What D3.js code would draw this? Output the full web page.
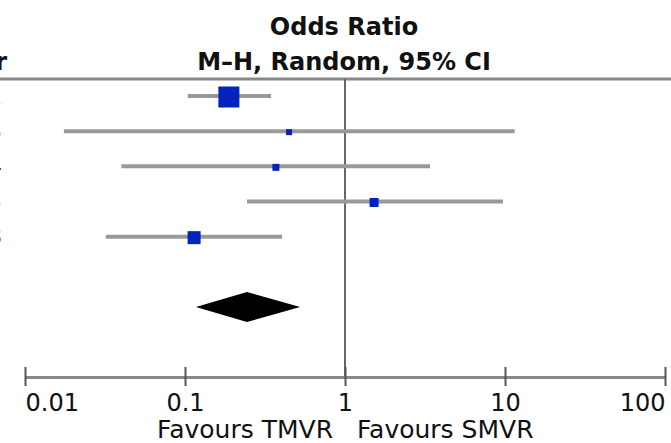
<!DOCTYPE html>
<html>
<head>
<meta charset="utf-8">
<script src="https://cdn.jsdelivr.net/npm/d3@7"></script>
<style>
  body { margin: 0; background: #fff; }
  text { font-family: "DejaVu Sans", Verdana, sans-serif; }
</style>
</head>
<body>
<svg id="plot" width="671" height="443"></svg>
<script>
// study rows (left labels are cut off in the source picture)
const studyYears = ["2001", "2003", "2004", "2005", "2008"];
const oddsRatio  = [0.188, 0.447, 0.37, 1.52, 0.114];
const ciLow      = [0.104, 0.0175, 0.040, 0.244, 0.032];
const ciHigh     = [0.345, 11.5, 3.40, 9.72, 0.404];
const weights    = [56.8, 4.6, 6.3, 10.4, 21.8];

// pooled estimate
const pooled = { or: 0.244, low: 0.117, high: 0.524 };

const tickValues = [0.01, 0.1, 1, 10, 100];
const tickLabels = ["0.01", "0.1", "1", "10", "100"];

const svg = d3.select("#plot");

const x = d3.scaleLog().domain([0.01, 100]).range([25, 665]);
const y = d3.scaleLinear().domain([0, 6]).range([96, 307]);
const size = d3.scaleSqrt().domain([0, d3.max(weights)]).range([0, 21]);

const axisY = 377;
const headerY = 79;

// header
svg.append("text")
    .attr("x", 344).attr("y", 35)
    .attr("text-anchor", "middle")
    .attr("font-size", 24).attr("font-weight", "bold")
    .attr("fill", "#111")
    .text("Odds Ratio");

svg.append("text")
    .attr("x", 344).attr("y", 70)
    .attr("text-anchor", "middle")
    .attr("font-size", 24).attr("font-weight", "bold")
    .attr("fill", "#111")
    .text("M\u2013H, Random, 95% CI");

svg.append("text")
    .attr("x", 7).attr("y", 70)
    .attr("text-anchor", "end")
    .attr("font-size", 24).attr("font-weight", "bold")
    .attr("fill", "#111")
    .text("Year");

svg.append("line")
    .attr("x1", 0).attr("x2", 671)
    .attr("y1", headerY).attr("y2", headerY)
    .attr("stroke", "#888").attr("stroke-width", 3);

// line of no effect
svg.append("line")
    .attr("x1", x(1)).attr("x2", x(1))
    .attr("y1", headerY).attr("y2", axisY)
    .attr("stroke", "#666").attr("stroke-width", 2);

// rows
const rows = oddsRatio.map((d, i) => ({
    year: studyYears[i], or: d, low: ciLow[i], high: ciHigh[i], w: weights[i], i
}));

svg.append("g")
    .selectAll("text")
    .data(rows)
    .enter().append("text")
    .attr("x", 2)
    .attr("y", d => y(d.i) + 8)
    .attr("text-anchor", "end")
    .attr("font-size", 24)
    .attr("fill", "#111")
    .text(d => d.year);

svg.append("g")
    .selectAll("line")
    .data(rows)
    .enter().append("line")
    .attr("x1", d => x(d.low))
    .attr("x2", d => x(d.high))
    .attr("y1", d => y(d.i))
    .attr("y2", d => y(d.i))
    .attr("stroke", "#999")
    .attr("stroke-width", 4);

svg.append("g")
    .selectAll("rect")
    .data(rows)
    .enter().append("rect")
    .attr("x", d => x(d.or) - size(d.w) / 2)
    .attr("y", d => y(d.i) + 1 - size(d.w) / 2)
    .attr("width", d => size(d.w))
    .attr("height", d => size(d.w))
    .attr("fill", "#0522bd");

// pooled diamond
const dy = y(6);
svg.append("polygon")
    .attr("points", [
        [x(pooled.low), dy],
        [x(pooled.or), dy - 15],
        [x(pooled.high), dy],
        [x(pooled.or), dy + 15]
    ].map(p => p.join(",")).join(" "))
    .attr("fill", "#000");

// axis
const axis = svg.append("g")
    .attr("transform", `translate(0,${axisY})`)
    .call(d3.axisBottom(x)
        .tickValues(tickValues)
        .tickFormat((d, i) => tickLabels[i])
        .tickSizeOuter(0));

axis.select(".domain")
    .attr("stroke", "#888").attr("stroke-width", 3);

axis.selectAll(".tick line")
    .attr("y1", -10).attr("y2", 9)
    .attr("stroke", "#555").attr("stroke-width", 2);

axis.selectAll(".tick text")
    .attr("y", 34).attr("dy", 0)
    .attr("font-size", 24)
    .attr("font-family", "DejaVu Sans, Verdana, sans-serif")
    .attr("fill", "#111")
    .attr("text-anchor", (d, i) => i === 0 ? "start" : i === tickValues.length - 1 ? "end" : "middle");

// direction labels
svg.append("text")
    .attr("x", x(1) - 12).attr("y", 438)
    .attr("text-anchor", "end")
    .attr("font-size", 25)
    .attr("fill", "#111")
    .text("Favours TMVR");

svg.append("text")
    .attr("x", x(1) + 12).attr("y", 438)
    .attr("text-anchor", "start")
    .attr("font-size", 25)
    .attr("fill", "#111")
    .text("Favours SMVR");
</script>
</body>
</html>
